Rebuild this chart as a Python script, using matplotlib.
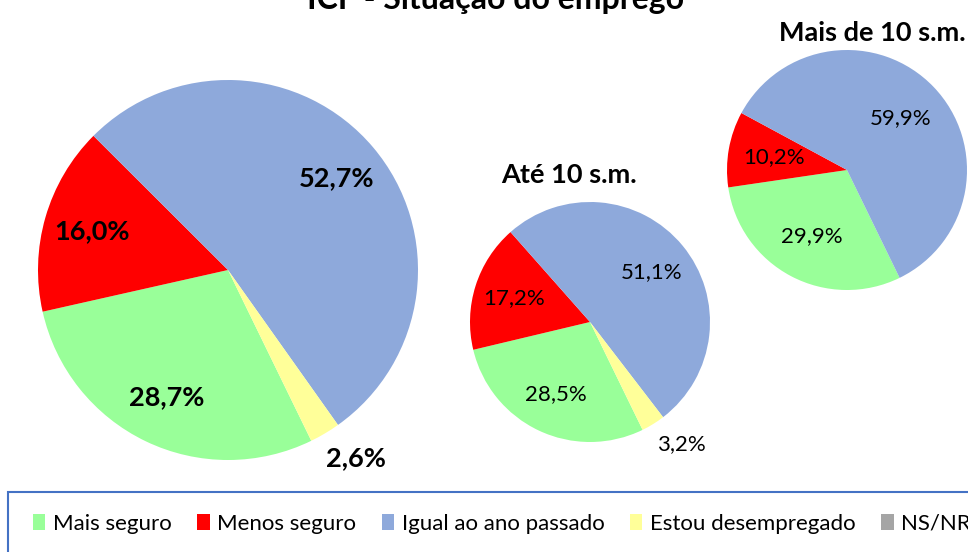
import matplotlib
matplotlib.use('Agg')
import matplotlib.pyplot as plt
from matplotlib.patches import Rectangle, Patch
import numpy as np

categories = ["Mais seguro", "Menos seguro", "Igual ao ano passado", "Estou desempregado", "NS/NR"]
colors = ["#99FF99", "#FF0000", "#8EA9DB", "#FFFF99", "#A5A5A5"]
total_vals = [28.7, 16.0, 52.7, 2.6, 0.0]
ate10_vals = [28.5, 17.2, 51.1, 3.2, 0.0]
mais10_vals = [29.9, 10.2, 59.9, 0.0, 0.0]
title = "ICF - Situação do emprego"
sub_ate = "Até 10 s.m."
sub_mais = "Mais de 10 s.m."

plt.rcParams['font.family'] = ['Lato', 'DejaVu Sans']

W, H = 968, 552
fig = plt.figure(figsize=(9.68, 5.52), dpi=100)
ax = fig.add_axes([0, 0, 1, 1])


def draw(vals, cx, cy, r, pctd, outd, outshift, bold, fs):
    wedges, _ = ax.pie(vals, colors=colors, startangle=296, counterclock=False,
                       center=(cx, H - cy), radius=r, frame=True)
    for w, v in zip(wedges, vals):
        if v <= 0:
            continue
        mid_deg = (w.theta1 + w.theta2) / 2
        if v >= 5:
            d = pctd
        else:
            d = outd
            mid_deg += outshift
        mid = np.deg2rad(mid_deg)
        x = cx + d * r * np.cos(mid)
        y = (H - cy) + d * r * np.sin(mid)
        ax.text(x, y, f"{v:.1f}%".replace('.', ','), ha='center', va='center',
                fontsize=fs, fontweight='bold' if bold else 'normal', color='black')


draw(total_vals, 228, 270, 190, 0.745, 1.2, 3.5, True, 19.5)
draw(ate10_vals, 590, 322, 120, 0.66, 1.27, 5, False, 16)
draw(mais10_vals, 847, 170, 120, 0.62, 1.25, 0, False, 16)

ax.set_xlim(0, W)
ax.set_ylim(0, H)
ax.set_aspect('equal')
ax.axis('off')

ax.text(496, H - 9, title, ha='center', va='baseline', fontsize=23, fontweight='bold')
ax.text(569, H - 175, sub_ate, ha='center', va='center', fontsize=19.5, fontweight='bold')
ax.text(872, H - 33, sub_mais, ha='center', va='center', fontsize=19.5, fontweight='bold')

fig.patches.append(Rectangle((8 / W, -10 / H), 1.0, 70 / H,
                             transform=fig.transFigure, fill=False,
                             edgecolor='#4472C4', linewidth=1.5, figure=fig))

handles = [Patch(facecolor=c, edgecolor='none') for c in colors]
fig.legend(handles, categories, loc='center left', bbox_to_anchor=(33 / W, (H - 524) / H),
           ncol=5, frameon=False, fontsize=16, handlelength=0.55, handleheight=0.75,
           handletextpad=0.35, columnspacing=1.15, borderaxespad=0, borderpad=0)

fig.savefig('out.png', dpi=100)
